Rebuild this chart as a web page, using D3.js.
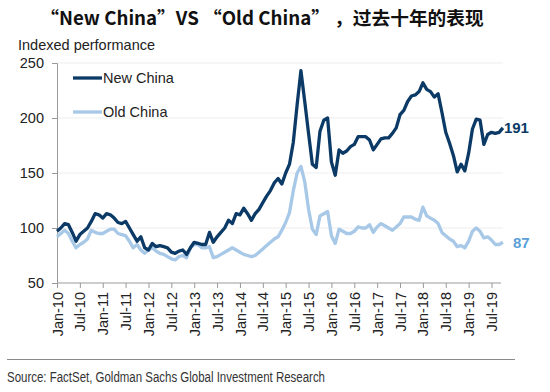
<!DOCTYPE html>
<html>
<head>
<meta charset="utf-8">
<script src="https://cdn.jsdelivr.net/npm/d3@7"></script>
<style>
  html, body { margin: 0; padding: 0; background: #fff; }
  svg { display: block; }
</style>
</head>
<body>
<script>
// ---- Data (monthly, Jan-2010 .. Oct-2019) ----
const startYear = 2010;
const newChina = [
  97,100,104,103,96,88,94,97,100,106,113,112,
  109,113,112,109,105,104,106,100,94,88,92,82,
  80,86,83,84,83,82,78,77,79,80,76,82,
  87,86,85,85,96,87,92,96,100,107,104,113,
  112,118,113,107,113,117,123,129,134,141,145,140,
  150,158,178,212,243,215,186,158,155,188,198,200,
  160,148,171,168,170,174,176,183,183,183,180,171,
  176,181,182,182,186,191,203,207,215,220,221,224,
  232,226,224,219,222,205,187,177,166,151,158,152,
  168,190,199,198,176,185,187,186,187,191
];
const oldChina = [
  92,95,98,95,88,82,85,87,90,98,96,95,
  95,97,99,99,95,94,93,88,82,85,80,77,
  80,82,79,77,76,74,72,71,74,75,73,82,
  85,85,82,82,83,73,74,76,78,80,82,80,
  78,76,75,74,75,78,81,84,87,90,92,98,
  105,114,134,150,156,142,117,99,94,111,113,115,
  93,86,99,97,95,95,97,101,100,100,103,96,
  101,104,102,100,98,101,104,110,110,110,108,107,
  119,111,109,107,104,96,93,90,88,83,84,82,
  88,97,100,97,91,92,89,85,85,87
];
const seriesNames = ["New China", "Old China"];
const seriesColors = ["#0c3a66", "#a7c8e6"];
const endLabelColors = ["#0c3a66", "#5b9fd8"];
const yTicks = [50, 100, 150, 200, 250];
const monthNames = ["Jan","Feb","Mar","Apr","May","Jun","Jul","Aug","Sep","Oct","Nov","Dec"];
const xTickMonths = d3.range(0, 115, 6); // Jan-10 .. Jul-19
const titleText = "“New China”VS “Old China” ，过去十年的表现";
const yTitle = "Indexed performance";
const sourceText = "Source: FactSet, Goldman Sachs Global Investment Research";

// ---- Layout ----
const W = 550, H = 392;
const svg = d3.select("body").append("svg").attr("width", W).attr("height", H);
const F = "Liberation Sans, Arial, sans-serif";

const x = d3.scaleLinear().domain([0, 114]).range([57, 491.5]);
const y = d3.scaleLinear().domain([50, 250]).range([283, 63]);

// gridlines
svg.append("g").selectAll("line").data(yTicks.slice(1)).join("line")
  .attr("x1", 57).attr("x2", 503)
  .attr("y1", d => y(d)).attr("y2", d => y(d))
  .attr("stroke", "#ededed").attr("stroke-width", 1);

// y axis
const yAxis = svg.append("g").attr("transform", "translate(57,0)")
  .call(d3.axisLeft(y).tickValues(yTicks).tickSize(5).tickPadding(8));
yAxis.select(".domain").attr("stroke", "#9a9a9a");
yAxis.selectAll(".tick line").attr("stroke", "#9a9a9a");
yAxis.selectAll("text").attr("font-family", F).attr("font-size", 14.5).attr("fill", "#222");

// x axis
const xAxis = svg.append("g").attr("transform", "translate(0,283)")
  .call(d3.axisBottom(x).tickValues(xTickMonths).tickSize(5)
    .tickFormat(m => monthNames[m % 12] + "-" + String((startYear + Math.floor(m / 12)) % 100).padStart(2, "0")));
xAxis.select(".domain").attr("stroke", "#9a9a9a")
  .attr("d", `M57,0H${x(116.5)}`);
xAxis.selectAll(".tick line").attr("stroke", "#9a9a9a");
xAxis.selectAll("text")
  .attr("font-family", F).attr("font-size", 14.5).attr("fill", "#222")
  .attr("transform", "rotate(-90)")
  .attr("text-anchor", "end")
  .attr("x", -9).attr("y", 0).attr("dy", "0.35em");

// lines
const line = d3.line().x((d, i) => x(i)).y(d => y(d)).curve(d3.curveLinear);
[oldChina, newChina].forEach((s, k) => {
  const idx = k === 0 ? 1 : 0;
  svg.append("path").datum(s)
    .attr("fill", "none")
    .attr("stroke", seriesColors[idx])
    .attr("stroke-width", 3.3)
    .attr("stroke-linejoin", "round")
    .attr("d", line);
});

// end labels
[newChina, oldChina].forEach((s, i) => {
  const last = s[s.length - 1];
  svg.append("text")
    .attr("x", i === 0 ? x(s.length - 1) + 1 : x(s.length - 1) + 10)
    .attr("y", y(last)).attr("dy", "0.36em")
    .attr("font-family", F).attr("font-weight", "bold").attr("font-size", 15)
    .attr("fill", endLabelColors[i]).text(last);
});

// legend
const legY = [78, 112];
seriesNames.forEach((n, i) => {
  svg.append("line").attr("x1", 73).attr("x2", 102)
    .attr("y1", legY[i]).attr("y2", legY[i])
    .attr("stroke", seriesColors[i]).attr("stroke-width", 3.3);
  svg.append("text").attr("x", 103).attr("y", legY[i]).attr("dy", "0.36em")
    .attr("font-family", F).attr("font-size", 14.5).attr("fill", "#222").text(n);
});

// y title
svg.append("text").attr("x", 18).attr("y", 50)
  .attr("font-family", F).attr("font-size", 14.5).attr("fill", "#222").text(yTitle);

// title
svg.append("text").attr("x", 262).attr("y", 25).attr("text-anchor", "middle")
  .attr("font-family", "Noto Sans CJK SC, sans-serif").attr("font-weight", "bold")
  .attr("font-size", 18.7).attr("fill", "#111").text(titleText);

// separator and source
svg.append("line").attr("x1", 7).attr("x2", 515).attr("y1", 359.5).attr("y2", 359.5)
  .attr("stroke", "#8a8a8a").attr("stroke-width", 1);
svg.append("text").attr("x", 7).attr("y", 382)
  .attr("font-family", F)
  .attr("font-size", 15.5).attr("fill", "#333")
  .attr("textLength", 318).attr("lengthAdjust", "spacingAndGlyphs")
  .text(sourceText);
</script>
</body>
</html>
